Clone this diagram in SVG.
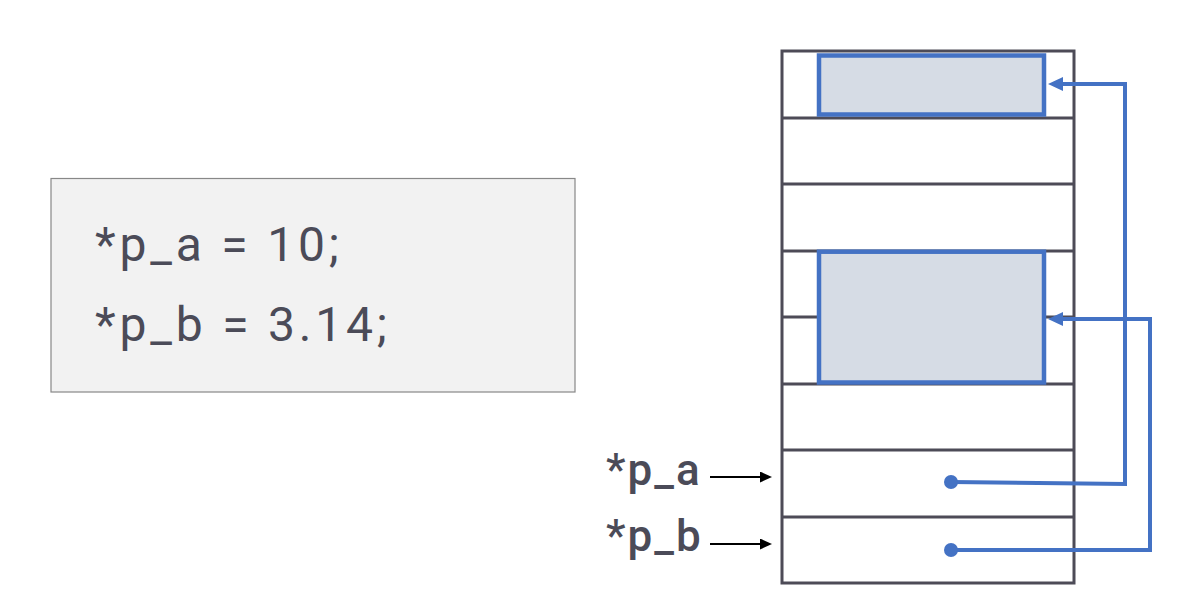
<svg xmlns="http://www.w3.org/2000/svg" width="1202" height="608" viewBox="0 0 1202 608">
<style>
.grid{fill:none;stroke:#4d4b57;stroke-width:3}
.cell{fill:#d6dce5;stroke:#4472c4;stroke-width:4.5}
.conn{fill:none;stroke:#4472c4;stroke-width:4}
.ptr{fill:none;stroke:#000;stroke-width:2}
.dot{fill:#4472c4}
.code{font-family:Roboto,"Liberation Sans",sans-serif;font-size:48px;letter-spacing:3.8px;fill:#4b4b58}
.lbl{font-family:Roboto,"Liberation Sans",sans-serif;font-size:44px;font-weight:500;letter-spacing:2px;fill:#4b4b58}
</style>
<defs>
<marker id="bluehead" markerUnits="userSpaceOnUse" markerWidth="15" markerHeight="14" refX="3" refY="7" orient="auto"><path d="M0,0 L15,7 L0,14 z" fill="#4472c4"/></marker>
<marker id="blackhead" markerUnits="userSpaceOnUse" markerWidth="12" markerHeight="11" refX="2" refY="5.5" orient="auto"><path d="M0,0 L12,5.5 L0,11 z" fill="#000"/></marker>
</defs>
<rect width="1202" height="608" fill="#fff"/>
<g id="code-box">
<rect x="51" y="178.5" width="524" height="213.5" fill="#f2f2f2" stroke="#888" stroke-width="1.2"/>
<text class="code" x="95" y="261">*p_a = 10;</text>
<text class="code" x="95" y="341">*p_b = 3.14;</text>
</g>
<g id="memory">
<rect class="grid" x="782" y="51" width="292" height="532"/>
<line class="grid" x1="782" y1="118" x2="1074" y2="118"/>
<line class="grid" x1="782" y1="184" x2="1074" y2="184"/>
<line class="grid" x1="782" y1="251" x2="1074" y2="251"/>
<line class="grid" x1="782" y1="317" x2="1074" y2="317"/>
<line class="grid" x1="782" y1="384" x2="1074" y2="384"/>
<line class="grid" x1="782" y1="450" x2="1074" y2="450"/>
<line class="grid" x1="782" y1="517" x2="1074" y2="517"/>
</g>
<g id="var-a"><rect class="cell" x="819" y="55.5" width="225" height="59"/></g>
<g id="var-b"><rect class="cell" x="819" y="251.7" width="225" height="130.8"/></g>
<g id="label-pa"><text class="lbl" x="606" y="485">*p_a</text></g>
<g id="label-pb"><text class="lbl" x="606" y="551">*p_b</text></g>
<g id="connectors">
<line class="ptr" x1="710" y1="477" x2="762" y2="477" marker-end="url(#blackhead)"/>
<line class="ptr" x1="710" y1="544" x2="762" y2="544" marker-end="url(#blackhead)"/>
<polyline class="conn" points="951,482 1125,484 1125,84 1060,84" marker-end="url(#bluehead)"/>
<polyline class="conn" points="951,550 1150,550 1150,319 1060,319" marker-end="url(#bluehead)"/>
<circle class="dot" cx="951" cy="482" r="7"/>
<circle class="dot" cx="951" cy="550" r="7"/>
</g>
</svg>
